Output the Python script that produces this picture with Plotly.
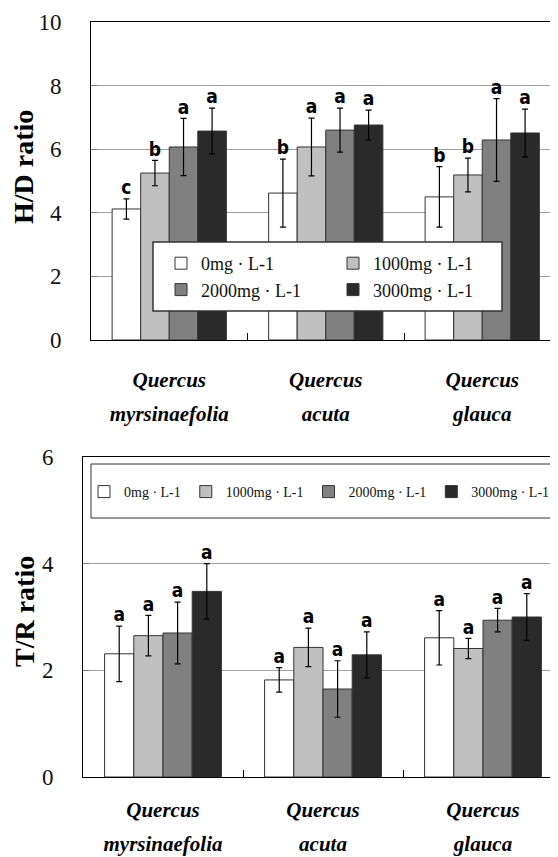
import plotly.graph_objects as go

# ---------------- data ----------------
species = ["Quercus myrsinaefolia", "Quercus acuta", "Quercus glauca"]
genus = ["Quercus", "Quercus", "Quercus"]
epithet = ["myrsinaefolia", "acuta", "glauca"]
treatments = ["0mg · L-1", "1000mg · L-1", "2000mg · L-1", "3000mg · L-1"]

# H/D ratio
hd_0 = [4.12, 4.62, 4.50]
hd_1000 = [5.25, 6.07, 5.19]
hd_2000 = [6.07, 6.60, 6.29]
hd_3000 = [6.57, 6.76, 6.51]
hd_err_0 = [0.32, 1.07, 0.95]
hd_err_1000 = [0.40, 0.91, 0.53]
hd_err_2000 = [0.90, 0.69, 1.30]
hd_err_3000 = [0.72, 0.47, 0.75]
hd_let_0 = ["c", "b", "b"]
hd_let_1000 = ["b", "a", "b"]
hd_let_2000 = ["a", "a", "a"]
hd_let_3000 = ["a", "a", "a"]

# T/R ratio
tr_0 = [2.31, 1.82, 2.61]
tr_1000 = [2.65, 2.43, 2.41]
tr_2000 = [2.70, 1.65, 2.94]
tr_3000 = [3.48, 2.29, 3.00]
tr_err_0 = [0.52, 0.23, 0.51]
tr_err_1000 = [0.38, 0.36, 0.19]
tr_err_2000 = [0.58, 0.53, 0.22]
tr_err_3000 = [0.52, 0.43, 0.44]
tr_let_0 = ["a", "a", "a"]
tr_let_1000 = ["a", "a", "a"]
tr_let_2000 = ["a", "a", "a"]
tr_let_3000 = ["a", "a", "a"]

hd_yticks = [0, 2, 4, 6, 8, 10]
tr_yticks = [0, 2, 4, 6]
hd_title = "H/D ratio"
tr_title = "T/R ratio"

# ---------------- style ----------------
bar_colors = ["#ffffff", "#c0c0c0", "#808080", "#2a2a2a"]
SERIF = "Liberation Serif, serif"
NARROW = "Liberation Sans Narrow, DejaVu Sans Condensed, sans-serif"

OFF = 8                # page body margin of the html page
PAGE_W, PAGE_H = 558, 857
W, H = PAGE_W - OFF, PAGE_H - OFF
L_PAGE = 83            # left edge of plotting area on the page
L = L_PAGE - OFF

fig = go.Figure()

hd_means = [hd_0, hd_1000, hd_2000, hd_3000]
hd_errs = [hd_err_0, hd_err_1000, hd_err_2000, hd_err_3000]
hd_lets = [hd_let_0, hd_let_1000, hd_let_2000, hd_let_3000]
tr_means = [tr_0, tr_1000, tr_2000, tr_3000]
tr_errs = [tr_err_0, tr_err_1000, tr_err_2000, tr_err_3000]
tr_lets = [tr_let_0, tr_let_1000, tr_let_2000, tr_let_3000]


def add_panel(means, errs, lets, xa, ya, legend):
    for i, t in enumerate(treatments):
        fig.add_trace(go.Bar(
            x=species, y=means[i], name=t,
            xaxis=xa, yaxis=ya, legend=legend,
            marker=dict(color=bar_colors[i], line=dict(color="#333333", width=1)),
            error_y=dict(type="data", array=errs[i], color="#000000",
                         thickness=1.2, width=3),
        ))
    for i, t in enumerate(treatments):
        fig.add_trace(go.Scatter(
            x=species, y=[m + e for m, e in zip(means[i], errs[i])],
            text=lets[i], mode="text", textposition="top center",
            textfont=dict(family=NARROW, size=19, color="#000000", weight="bold"),
            xaxis=xa, yaxis=ya, showlegend=False, cliponaxis=False,
            hoverinfo="skip",
        ))


add_panel(hd_means, hd_errs, hd_lets, "x", "y", "legend")
add_panel(tr_means, tr_errs, tr_lets, "x2", "y2", "legend2")

ticktext = [
    f"<span style='font-size:21px'><b><i>{g}</i></b></span><br>"
    f"<span style='font-size:21px'><b><i>{e}</i></b></span>"
    for g, e in zip(genus, epithet)
]


def px_y(y):
    """page pixel y -> paper fraction"""
    return 1 - (y - OFF) / H


def px_x(x):
    """page pixel x -> paper fraction"""
    return (x - L_PAGE) / (W - L)


xcommon = dict(
    type="category", tickvals=species, ticktext=ticktext, automargin=False,
    tickfont=dict(family=SERIF, size=26, color="#000000"),
    showline=True, linecolor="#000000", linewidth=1, mirror=True,
    ticks="inside", ticklen=7, tickcolor="#000000", tickson="boundaries",
    showgrid=False, zeroline=False, fixedrange=True,
)
ycommon = dict(
    automargin=False,
    showline=True, linecolor="#000000", linewidth=1, mirror=False,
    showgrid=True, gridcolor="#a0a0a0", gridwidth=1, zeroline=False,
    ticks="inside", ticklen=6, tickcolor="#777777",
    tickfont=dict(family=SERIF, size=23, color="#111111"),
    ticklabelstandoff=24, fixedrange=True,
)

top_plot = (91, 22, 340)     # left, top, bottom page px
bot_plot = (83, 457, 777)
top_cat = 156.5
bot_cat = 160.0

title_font = dict(family=SERIF, size=28, color="#000000")

fig.update_layout(
    template="none",
    font=dict(family=SERIF, color="#000000"),
    width=W, height=H,
    margin=dict(l=L, r=0, t=0, b=0, autoexpand=False),
    paper_bgcolor="white", plot_bgcolor="white",
    barmode="group", bargap=0.27, bargroupgap=0,
    scattermode="group", scattergap=0.27,
    xaxis=dict(xcommon, domain=[px_x(top_plot[0]), 1], anchor="y",
               range=[-0.5, -0.5 + (PAGE_W - top_plot[0]) / top_cat],
               ticklabelstandoff=15),
    yaxis=dict(ycommon, domain=[px_y(top_plot[2]), px_y(top_plot[1])], anchor="x",
               range=[0, 10], tickvals=hd_yticks),
    xaxis2=dict(xcommon, domain=[0, 1], anchor="y2",
                range=[-0.5, -0.5 + (PAGE_W - bot_plot[0]) / bot_cat],
                ticklabelstandoff=8),
    yaxis2=dict(ycommon, domain=[px_y(bot_plot[2]), px_y(bot_plot[1])], anchor="x2",
                range=[0, 6], tickvals=tr_yticks),
    annotations=[
        dict(text=f"<b>{hd_title}</b>", xref="paper", yref="paper",
             x=px_x(23), y=px_y(167), textangle=-90, showarrow=False,
             xanchor="center", yanchor="middle", font=title_font),
        dict(text=f"<b>{tr_title}</b>", xref="paper", yref="paper",
             x=px_x(24), y=px_y(612), textangle=-90, showarrow=False,
             xanchor="center", yanchor="middle", font=title_font),
    ],
    legend=dict(
        orientation="h", x=px_x(161), y=px_y(276.5), xanchor="left", yanchor="middle",
        entrywidth=127, entrywidthmode="pixels", itemwidth=30,
        font=dict(family=SERIF, size=18, color="#111111"),
        bgcolor="rgba(0,0,0,0)", borderwidth=0,
        itemclick=False, itemdoubleclick=False,
    ),
    legend2=dict(
        orientation="h", x=px_x(84), y=px_y(492), xanchor="left", yanchor="middle",
        itemwidth=30,
        font=dict(family=SERIF, size=14, color="#111111"),
        bgcolor="rgba(0,0,0,0)", borderwidth=0,
        itemclick=False, itemdoubleclick=False,
    ),
    shapes=[
        dict(type="rect", xref="paper", yref="paper", layer="above",
             x0=px_x(153), x1=px_x(502), y0=px_y(311), y1=px_y(242),
             fillcolor="white", line=dict(color="#333333", width=1.5)),
        dict(type="rect", xref="paper", yref="paper", layer="above",
             x0=px_x(91), x1=px_x(556), y0=px_y(518), y1=px_y(464),
             fillcolor="white", line=dict(color="#333333", width=1)),
    ],
    showlegend=True,
)

fig.write_html("out.html")
